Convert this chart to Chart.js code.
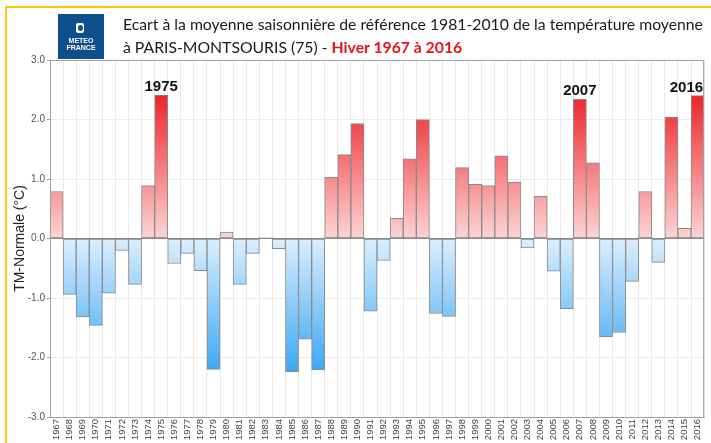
<!DOCTYPE html>
<html>
<head>
<meta charset="utf-8">
<script src="https://cdn.jsdelivr.net/npm/chart.js@4/dist/chart.umd.min.js"></script>
<style>
  body { margin: 0; background: #fff; }
  #wrap { position: relative; width: 711px; height: 443px; overflow: hidden; }
  #frame { position: absolute; left: 5px; top: 6px; width: 800px; height: 500px;
           border-top: 2px solid #fcc800; border-left: 2px solid #fcc800; }
  #chart { position: absolute; left: 0; top: 0; }
  #logo { position: absolute; left: 58px; top: 14px; width: 46px; height: 45px; background: #0c4f8c;
          color: #fff; font-family: "Liberation Sans", Arial, sans-serif; font-weight: bold;
          font-size: 7px; line-height: 7px; text-align: center; }
  #logo .icon { position: absolute; left: 18px; top: 9px; width: 8px; height: 10px; background: #fff; border-radius: 2px; }
  #logo .icon i { position: absolute; left: 2px; top: 2px; width: 5px; height: 6px; background: #0c4f8c; border-radius: 50%; }
  #logo .txt { position: absolute; left: 0; right: 0; top: 23px; }
  #title { position: absolute; left: 123px; top: 12px; font-family: Lato, "Open Sans", sans-serif;
           font-size: 15.75px; line-height: 23px; color: #1a1a1a; white-space: nowrap; }
  #title b { color: #e3141b; }
</style>
</head>
<body>
<div id="wrap">
  <div id="frame"></div>
  <canvas id="chart" width="711" height="443"></canvas>
  <div id="logo"><div class="icon"><i></i></div><div class="txt">METEO<br>FRANCE</div></div>
  <div id="title">Ecart à la moyenne saisonnière de référence 1981-2010 de la température moyenne<br>à PARIS-MONTSOURIS (75) - <b>Hiver 1967 à 2016</b></div>
</div>
<script>
const years = ['1967', '1968', '1969', '1970', '1971', '1972', '1973', '1974', '1975', '1976',
               '1977', '1978', '1979', '1980', '1981', '1982', '1983', '1984', '1985', '1986',
               '1987', '1988', '1989', '1990', '1991', '1992', '1993', '1994', '1995', '1996',
               '1997', '1998', '1999', '2000', '2001', '2002', '2003', '2004', '2005', '2006',
               '2007', '2008', '2009', '2010', '2011', '2012', '2013', '2014', '2015', '2016'];

const anomalies = [0.79, -0.94, -1.32, -1.46, -0.92, -0.20, -0.77, 0.89, 2.41, -0.42,
                   -0.25, -0.54, -2.20, 0.11, -0.77, -0.25, 0.02, -0.17, -2.24, -1.69,
                   -2.21, 1.03, 1.41, 1.93, -1.22, -0.37, 0.34, 1.34, 2.00, -1.26,
                   -1.31, 1.19, 0.91, 0.89, 1.39, 0.95, -0.16, 0.71, -0.55, -1.18,
                   2.34, 1.27, -1.65, -1.58, -0.72, 0.79, -0.40, 2.04, 0.17, 2.40];

const highlightYears = ['1975', '2007', '2016'];

const yTicks = [-3, -2, -1, 0, 1, 2, 3];

let redGrad = null, blueGrad = null;

function barFill(ctx) {
    const chart = ctx.chart;
    const { ctx: c, chartArea, scales } = chart;
    if (!chartArea) return '#f99';
    const y = scales.y;
    if (!redGrad) {
        redGrad = c.createLinearGradient(0, y.getPixelForValue(2.5), 0, y.getPixelForValue(0));
        redGrad.addColorStop(0, '#ec1f24');
        redGrad.addColorStop(1, '#fdd4d4');
        blueGrad = c.createLinearGradient(0, y.getPixelForValue(0), 0, y.getPixelForValue(-2.3));
        blueGrad.addColorStop(0, '#dbeffc');
        blueGrad.addColorStop(1, '#36a6f4');
    }
    return ctx.raw >= 0 ? redGrad : blueGrad;
}

// cadre gris autour de la zone + étiquettes des hivers record
const frameAndLabels = {
    id: 'frameAndLabels',
    afterDatasetsDraw(chart) {
        const { ctx, chartArea } = chart;
        ctx.save();
        ctx.strokeStyle = '#a0a0a0';
        ctx.lineWidth = 1;
        ctx.strokeRect(chartArea.left + 0.5, chartArea.top + 0.5,
                       chartArea.right - chartArea.left - 1, chartArea.bottom - chartArea.top);
        const meta = chart.getDatasetMeta(0);
        ctx.fillStyle = '#111';
        ctx.font = 'bold 15px "Liberation Sans", Arial, sans-serif';
        ctx.textAlign = 'center';
        ctx.textBaseline = 'alphabetic';
        highlightYears.forEach(yr => {
            const el = meta.data[years.indexOf(yr)];
            const half = ctx.measureText(yr).width / 2;
            const x = Math.min(el.x, chartArea.right - half - 1);
            ctx.fillText(yr, x, el.y - 4);
        });
        ctx.restore();
    }
};

new Chart(document.getElementById('chart'), {
    type: 'bar',
    data: {
        labels: years,
        datasets: [{
            data: anomalies,
            backgroundColor: barFill,
            borderColor: '#8a8a8a',
            borderWidth: 1,
            borderSkipped: false,
            categoryPercentage: 1,
            barPercentage: 1
        }]
    },
    options: {
        responsive: false,
        animation: false,
        layout: { padding: { top: 60, left: 0, right: 2, bottom: 0 } },
        plugins: { legend: { display: false }, tooltip: { enabled: false } },
        scales: {
            x: {
                afterFit: s => { s.height = 26; },
                grid: { color: '#e9e9e9', drawTicks: false, offset: true },
                border: { color: '#a0a0a0' },
                ticks: {
                    minRotation: 90, maxRotation: 90, autoSkip: false, padding: 2,
                    color: '#444', font: { family: '"Liberation Sans", Arial, sans-serif', size: 9.5 }
                }
            },
            y: {
                min: -3, max: 3,
                afterFit: s => { s.width = 50; },
                afterBuildTicks: s => { s.ticks = yTicks.map(v => ({ value: v })); },
                grid: {
                    color: c => c.tick && c.tick.value === 0 ? '#8a8a8a' : '#ececec',
                    tickLength: 3, tickColor: '#a0a0a0'
                },
                border: { color: '#a0a0a0' },
                ticks: {
                    padding: 2, color: '#555',
                    font: { family: '"Liberation Sans", Arial, sans-serif', size: 10 },
                    callback: v => v.toFixed(1)
                },
                title: {
                    display: true, text: 'TM-Normale (°C)', color: '#222',
                    padding: { top: 12, bottom: 0 },
                    font: { family: '"Liberation Sans", Arial, sans-serif', size: 14 }
                }
            }
        }
    },
    plugins: [frameAndLabels]
});
</script>
</body>
</html>
